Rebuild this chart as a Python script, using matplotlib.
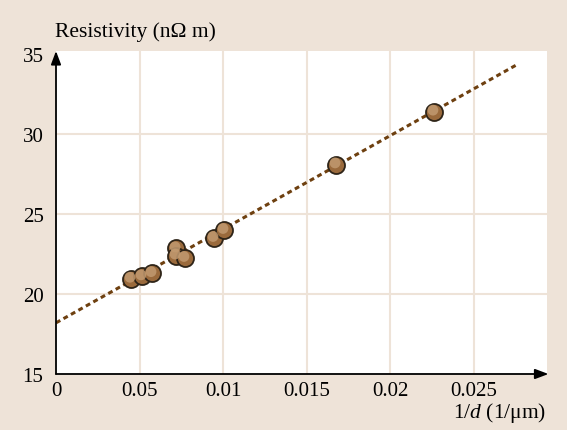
import numpy as np
import matplotlib
matplotlib.use('Agg')
import matplotlib.pyplot as plt

# Data
inv_d = [0.00449, 0.00515, 0.00575, 0.00719, 0.00719, 0.00772, 0.00946, 0.01006, 0.01677, 0.02263]
resistivity = [20.95, 21.1, 21.3, 22.85, 22.4, 22.25, 23.5, 24.0, 28.1, 31.4]
fit_x = [0.0, 0.0277]
fit_intercept = 18.2
fit_slope = 585.0

xticks = [0, 0.005, 0.01, 0.015, 0.02, 0.025]
xticklabels = ['0', '0.05', '0.01', '0.015', '0.02', '0.025']
yticks = [15, 20, 25, 30, 35]

bg = '#eee3d8'
plt.rcParams['font.family'] = ['Liberation Serif', 'DejaVu Serif']
plt.rcParams['mathtext.fontset'] = 'custom'
plt.rcParams['mathtext.it'] = 'Liberation Serif:italic'
plt.rcParams['mathtext.rm'] = 'Liberation Serif'

fig = plt.figure(figsize=(5.67, 4.31), dpi=100, facecolor=bg)
ax = fig.add_axes([56 / 567, 1 - 375 / 431, 491 / 567, 323 / 431])
ax.set_facecolor('white')
ax.set_xlim(0, 0.0294)
ax.set_ylim(15, 35.2)

for x in xticks[1:]:
    ax.axvline(x, color=bg, lw=1.5, zorder=0)
for y in [20, 25, 30]:
    ax.axhline(y, color=bg, lw=1.5, zorder=0)

fy = [fit_intercept + fit_slope * x for x in fit_x]
ax.plot(fit_x, fy, ls=(0, (1.6, 1.2)), color='#6e4010', lw=2.2, zorder=2)

ax.scatter(inv_d, resistivity, s=150, c='#9a6a3c', edgecolors='#2e2418', linewidths=1.3, zorder=3)
ax.scatter(np.array(inv_d) - 0.00006, np.array(resistivity) + 0.1, s=60, c='#c29a70', edgecolors='none', alpha=0.85, zorder=4)

for s in ax.spines.values():
    s.set_visible(False)
ax.tick_params(length=0, labelsize=15, pad=5)
ax.set_xticks(xticks)
ax.set_xticklabels(xticklabels)
ax.set_yticks(yticks)
ax.tick_params(axis='y', pad=9)

# axis arrows
ax.annotate('', xy=(1.003, 0), xytext=(0, 0), xycoords='axes fraction',
            arrowprops=dict(arrowstyle='-|>,head_length=0.8,head_width=0.3', color='black', lw=1.3, shrinkA=0, shrinkB=0))
ax.annotate('', xy=(0, 1.0), xytext=(0, 0), xycoords='axes fraction',
            arrowprops=dict(arrowstyle='-|>,head_length=0.8,head_width=0.3', color='black', lw=1.3, shrinkA=0, shrinkB=0))

fig.text(55 / 567, 1 - 32 / 431, 'Resistivity (nΩ m)', fontsize=15.5, ha='left', va='center')
fig.text(546 / 567, 1 - 413 / 431, '1/$d$ (1/μm)', fontsize=15.5, ha='right', va='center')

fig.savefig('out.png', dpi=100, facecolor=bg)
